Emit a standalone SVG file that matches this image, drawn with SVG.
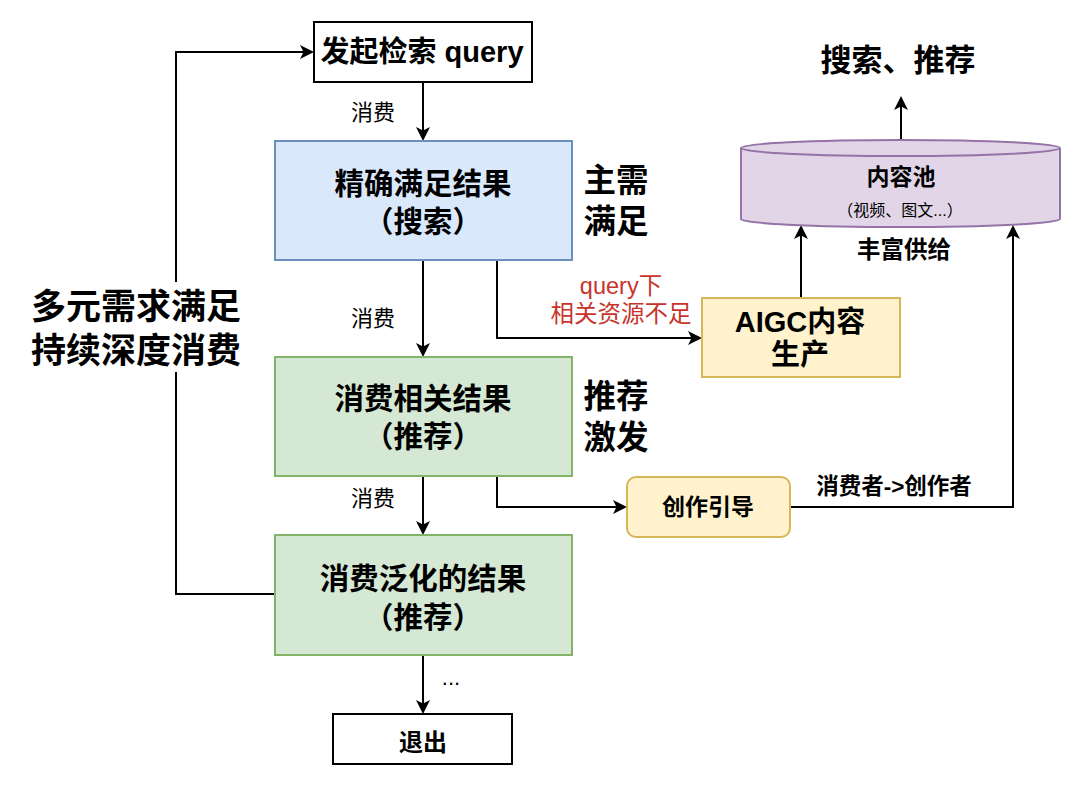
<svg xmlns="http://www.w3.org/2000/svg" width="1080" height="785" viewBox="0 0 1080 785">
<style>
text{font-family:"Liberation Sans","Noto Sans CJK SC",sans-serif;text-anchor:middle;dominant-baseline:central;fill:#000}
.b{font-weight:bold}
.line{fill:none;stroke:#000;stroke-width:2}
.blue{fill:#dae8fc;stroke:#6c8ebf;stroke-width:2}
.green{fill:#d5e8d4;stroke:#82b366;stroke-width:2}
.yellow{fill:#fff2cc;stroke:#d6b656;stroke-width:2}
.purple{fill:#e1d5e7;stroke:#9673a6;stroke-width:2}
.plain{fill:#fff;stroke:#000;stroke-width:2}
.lbl{font-size:22px}
.box{font-size:29.5px;font-weight:bold}
.side{font-size:32.5px;font-weight:bold}
.red{fill:#c8342c;font-size:23.5px}
</style>
<defs>
<marker id="arr" markerWidth="14" markerHeight="14" refX="12" refY="7" orient="auto" markerUnits="userSpaceOnUse">
<path d="M0,0 L14,7 L0,14 L3.5,7 Z" fill="#000"/>
</marker>
</defs>
<rect width="1080" height="785" fill="#fff"/>
<g id="connectors">
<path class="line" d="M423,82 V139" marker-end="url(#arr)"/>
<path class="line" d="M423,260 V355" marker-end="url(#arr)"/>
<path class="line" d="M423,476 V533" marker-end="url(#arr)"/>
<path class="line" d="M423,655 V712" marker-end="url(#arr)"/>
<path class="line" d="M275,594 H176 V52 H312" marker-end="url(#arr)"/>
<path class="line" d="M497,260 V338 H700" marker-end="url(#arr)"/>
<path class="line" d="M801,298 V227" marker-end="url(#arr)"/>
<path class="line" d="M901,141 V98" marker-end="url(#arr)"/>
<path class="line" d="M497,476 V507 H625" marker-end="url(#arr)"/>
<path class="line" d="M790,507 H1013 V227" marker-end="url(#arr)"/>
<text class="lbl" x="373" y="112">消费</text>
<text class="lbl" x="373" y="318">消费</text>
<text class="lbl" x="373" y="498">消费</text>
<text class="lbl" x="451" y="677">...</text>
<rect x="20" y="282" width="236" height="90" fill="#fff"/>
<text class="b" x="136" y="306" style="font-size:35px">多元需求满足</text>
<text class="b" x="136" y="350" style="font-size:35px">持续深度消费</text>
<text class="red" x="621" y="286">query下</text>
<text class="red" x="621" y="314">相关资源不足</text>
<text class="b" x="904" y="250" style="font-size:23.5px">丰富供给</text>
<text class="b" x="894" y="486" style="font-size:22.5px">消费者-&gt;创作者</text>
</g>
<g id="start">
<rect class="plain" x="314" y="22" width="218" height="60"/>
<text class="b" x="422" y="52" style="font-size:29px">发起检索 query</text>
</g>
<g id="search">
<rect class="blue" x="275" y="141" width="297" height="119"/>
<text class="box" x="423" y="183">精确满足结果</text>
<text class="box" x="423" y="221">（搜索）</text>
</g>
<g id="label-main">
<text class="side" x="616" y="181">主需</text>
<text class="side" x="616" y="222">满足</text>
</g>
<g id="rec1">
<rect class="green" x="275" y="357" width="297" height="119"/>
<text class="box" x="423" y="398">消费相关结果</text>
<text class="box" x="423" y="436">（推荐）</text>
</g>
<g id="label-rec">
<text class="side" x="616" y="397">推荐</text>
<text class="side" x="616" y="438">激发</text>
</g>
<g id="rec2">
<rect class="green" x="275" y="535" width="297" height="120"/>
<text class="box" x="423" y="578">消费泛化的结果</text>
<text class="box" x="423" y="617">（推荐）</text>
</g>
<g id="exit">
<rect class="plain" x="333" y="714" width="179" height="50"/>
<text class="b" x="423" y="742" style="font-size:24px">退出</text>
</g>
<g id="aigc">
<rect class="yellow" x="702" y="298" width="198" height="79"/>
<text class="b" x="800" y="322" style="font-size:29px">AIGC内容</text>
<text class="b" x="800" y="355" style="font-size:29px">生产</text>
</g>
<g id="guide">
<rect class="yellow" x="627" y="477" width="163" height="60" rx="9"/>
<text class="b" x="708" y="507" style="font-size:23px">创作引导</text>
</g>
<g id="pool">
<path class="purple" d="M741,148 A159.5,8 0 0 1 1060,148 V219 A159.5,8 0 0 1 741,219 Z"/>
<path class="line" style="stroke:#9673a6" d="M741,148 A159.5,8 0 0 0 1060,148"/>
<text class="b" x="901" y="177" style="font-size:23px">内容池</text>
<text x="900" y="210" style="font-size:16px">（视频、图文...）</text>
</g>
<g id="out">
<text class="b" x="898" y="60" style="font-size:31px">搜索、推荐</text>
</g>
</svg>
